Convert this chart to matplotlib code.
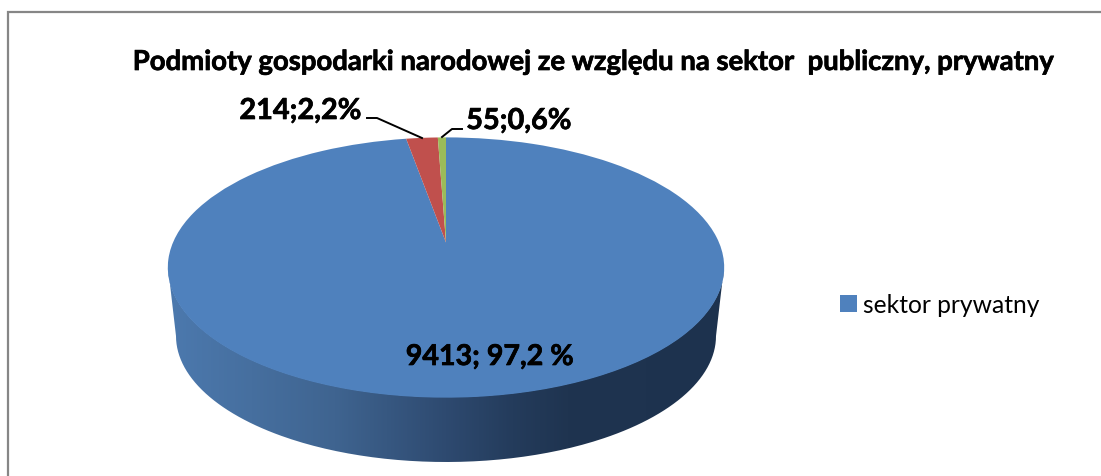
import numpy as np
import matplotlib
matplotlib.use("Agg")
import matplotlib.pyplot as plt
import matplotlib.patheffects as pe
from matplotlib.transforms import Transform
from matplotlib.patches import Patch, PathPatch
from matplotlib.path import Path
from matplotlib.colors import LinearSegmentedColormap

# Data
categories = ["sektor prywatny", "sektor publiczny", "inne"]
values = [9413, 214, 55]
labels = ["9413; 97,2 %", "214;2,2%", "55;0,6%"]
colors = ["#4F81BD", "#C0504D", "#9BBB59"]
title = "Podmioty gospodarki narodowej ze względu na sektor  publiczny, prywatny"

W, H = 1101, 477
plt.rcParams["font.family"] = ["Lato", "DejaVu Sans"]
fig = plt.figure(figsize=(W / 100, H / 100), dpi=100, facecolor="white")
ax = fig.add_axes([0, 0, 1, 1])


class Perspective(Transform):
    """Projects the unit disc of the pie to the tilted view (pixel space)."""
    input_dims = output_dims = 2
    has_inverse = False

    def __init__(self, cx, cy, k, e, c):
        super().__init__()
        self.p = (cx, cy, k, e, c)

    def transform_non_affine(self, xy):
        cx, cy, k, e, c = self.p
        xy = np.asarray(xy, float)
        d = 1 + c * xy[:, 1]
        return np.column_stack([cx + k * xy[:, 0] / d, (cy + e * xy[:, 1]) / d])


top = Perspective(446, 243.5, 273, -78.5, 0.1923)
wedges, _ = ax.pie(values, colors=colors, startangle=90, counterclock=False,
                   wedgeprops=dict(linewidth=0))
for w in wedges:
    w.set_transform(top + ax.transData)
    w.set_zorder(3)

ax.set_aspect("auto")
ax.set_xlim(0, W)
ax.set_ylim(H, 0)
ax.set_xticks([])
ax.set_yticks([])
ax.set_frame_on(False)

# Side wall: lower half of the rim and of the base outline
t = np.linspace(0, np.pi, 200)
cxw, cyt, rxt, ryt = 446, 268, 278, 130
cyb, rxb, ryb = 337, 270, 126
upper = np.column_stack([cxw - rxt * np.cos(t), cyt + ryt * np.sin(t)])
lower = np.column_stack([cxw - rxb * np.cos(t), cyb + ryb * np.sin(t)])
wall = np.vstack([upper, lower[::-1], upper[:1]])
clip = PathPatch(Path(wall), facecolor="none", edgecolor="none", transform=ax.transData)
ax.add_patch(clip)
cmap = LinearSegmentedColormap.from_list(
    "wall", [(0, "#4C79AE"), (0.15, "#466F9F"), (0.3, "#3F6490"), (0.5, "#2E4A70"),
             (0.62, "#243C5C"), (0.72, "#1F3450"), (1, "#1D324E")])
im = ax.imshow(np.linspace(0, 1, 256)[None, :], cmap=cmap, aspect="auto",
               extent=(168, 724, 470, 260), zorder=2)
im.set_clip_path(clip)
ax.set_xlim(0, W)
ax.set_ylim(H, 0)

# Frame: only the left and top edges are inside the crop
ax.plot([8, 8, W], [H, 13, 13], color="#868686", lw=1.6, zorder=1, solid_joinstyle="miter")

# Texts
heavy = [pe.withStroke(linewidth=0.5, foreground="black")]
ax.text(592.5, 63, title, ha="center", va="center", fontsize=19.8, fontweight="bold",
        color="black", zorder=5, path_effects=heavy)
ax.text(490, 358, labels[0], ha="center", va="center", fontsize=20.6, fontweight="bold",
        color="black", zorder=5, path_effects=heavy)
ax.text(300.5, 112, labels[1], ha="center", va="center", fontsize=20.8, fontweight="bold",
        color="black", zorder=5, path_effects=heavy)
ax.text(519, 122, labels[2], ha="center", va="center", fontsize=20.8, fontweight="bold",
        color="black", zorder=5, path_effects=heavy)

# Leader lines
ax.plot([367, 377, 422], [119, 119, 139], color="black", lw=1.4, zorder=5)
ax.plot([442, 452, 462], [138, 130, 130], color="black", lw=1.4, zorder=5)

# Legend
ax.legend(handles=[Patch(facecolor=colors[0], edgecolor="none")], labels=[categories[0]],
          loc="center left", bbox_to_anchor=(833, 306), bbox_transform=ax.transData,
          frameon=False, fontsize=17.7, handlelength=0.68, handleheight=0.68,
          handletextpad=0.25, borderpad=0, borderaxespad=0.3)

fig.savefig("out.png", dpi=100, facecolor="white")
